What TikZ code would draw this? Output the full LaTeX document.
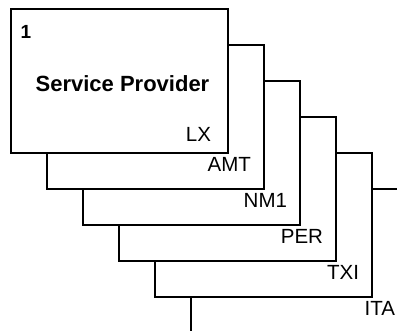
\documentclass[tikz,border=0pt]{standalone}
\usepackage{fontspec}
\setmainfont{Liberation Sans}
\begin{document}
\begin{tikzpicture}[x=1pt,y=-1pt,
  box/.style={draw=black, fill=white, line width=1.9pt, rectangle, inner sep=0pt, outer sep=0pt,
    minimum width=217pt, minimum height=144pt, anchor=north west},
  lab/.style={inner sep=0pt, outer sep=0pt, anchor=base east, font=\fontsize{20.5}{24}\selectfont},
  title/.style={inner sep=0pt, outer sep=0pt, anchor=base, font=\fontsize{22}{26}\selectfont\bfseries},
  num/.style={inner sep=0pt, outer sep=0pt, anchor=base west, font=\fontsize{19}{23}\selectfont\bfseries}]
\useasboundingbox (0,0) rectangle (397,331);
\clip (0,0) rectangle (397,331);
\node[box] (b6) at (191,189) {};
\node[box] (b5) at (155,153) {};
\node[box] (b4) at (119,117) {};
\node[box] (b3) at (83,81) {};
\node[box] (b2) at (47,45) {};
\node[box] (b1) at (11,9) {};
\node[num] (n1) at (20.5,38.5) {1};
\node[title] (sp) at (122.5,92) {Service Provider};
\node[lab] (lx) at ([xshift=-17pt,yshift=11pt]b1.south east) {LX};
\node[lab] (amt) at ([xshift=-13pt,yshift=17pt]b2.south east) {AMT};
\node[lab] (nm1) at ([xshift=-13pt,yshift=17pt]b3.south east) {NM1};
\node[lab] (per) at ([xshift=-13pt,yshift=17pt]b4.south east) {PER};
\node[lab] (txi) at ([xshift=-13pt,yshift=17pt]b5.south east) {TXI};
\node[lab] (ita) at ([xshift=-13pt,yshift=17pt]b6.south east) {ITA};
\end{tikzpicture}
\end{document}
